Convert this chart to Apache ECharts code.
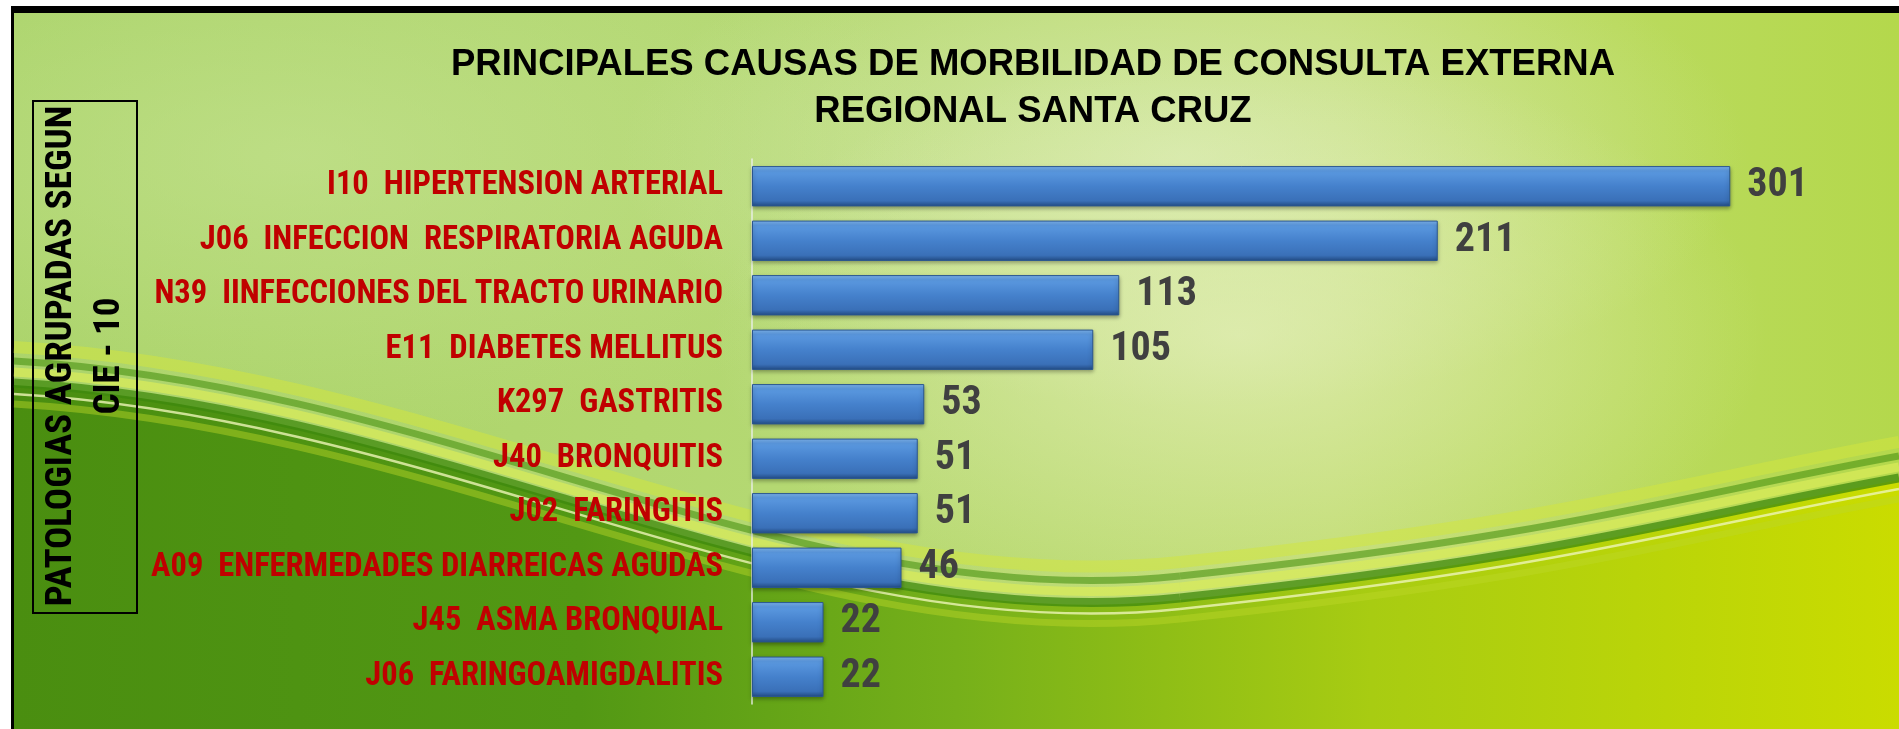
<!DOCTYPE html>
<html>
<head>
<meta charset="utf-8">
<title>Principales causas de morbilidad</title>
<script src="https://cdn.jsdelivr.net/npm/echarts@6.0.0/dist/echarts.min.js"></script>
<style>
  html, body { margin: 0; padding: 0; background: #fff; }
  #bg {
    position: absolute; left: 11px; top: 6px; right: 0; bottom: 0;
    border-top: 7px solid #000; border-left: 3px solid #000;
    background:
      radial-gradient(ellipse 28% 40% at 65% 45%, rgba(230,240,190,0.7), rgba(230,240,190,0) 100%),
      radial-gradient(ellipse 30% 35% at 62% 20%, rgba(222,238,190,0.7), rgba(222,238,190,0) 100%),
      radial-gradient(ellipse 35% 40% at 15% 20%, rgba(200,228,150,0.6), rgba(200,228,150,0) 100%),
      linear-gradient(90deg, #a8d266 0%, #b4d872 40%, #c0dc70 70%, #b4d84c 100%);
  }
  #chart { position: absolute; left: 0; top: 0; width: 1899px; height: 729px; }
</style>
</head>
<body>
<div id="bg"></div>
<div id="chart"></div>
<script>
  // datos
  const categories = [
    "I10  HIPERTENSION ARTERIAL",
    "J06  INFECCION  RESPIRATORIA AGUDA",
    "N39  IINFECCIONES DEL TRACTO URINARIO",
    "E11  DIABETES MELLITUS",
    "K297  GASTRITIS",
    "J40  BRONQUITIS",
    "J02  FARINGITIS",
    "A09  ENFERMEDADES DIARREICAS AGUDAS",
    "J45  ASMA BRONQUIAL",
    "J06  FARINGOAMIGDALITIS"
  ];
  const casos = [301, 211, 113, 105, 53, 51, 51, 46, 22, 22];

  const chartDom = document.getElementById("chart");
  const myChart = echarts.init(chartDom, null, { renderer: "canvas" });

  const condensed = "Roboto, 'Liberation Sans', Arial, sans-serif";

  // ondas del fondo (dos tramos bezier)
  const segs = [
    [14, 385, 450, 410, 800, 640, 1180, 600],
    [1180, 600, 1560, 560, 1680, 520, 1899, 480]
  ];
  const bez = (s, t) => {
    const u = 1 - t;
    return [
      u * u * u * s[0] + 3 * u * u * t * s[2] + 3 * u * t * t * s[4] + t * t * t * s[6],
      u * u * u * s[1] + 3 * u * u * t * s[3] + 3 * u * t * t * s[5] + t * t * t * s[7]
    ];
  };
  const fillPts = [];
  segs.forEach((s) => {
    for (let i = 0; i <= 40; i++) fillPts.push(bez(s, i / 40));
  });
  fillPts.push([1899, 729], [14, 729]);

  const stripe = (dy, color, width, opacity) =>
    segs.map((s) => ({
      type: "bezierCurve",
      silent: true,
      z: -10,
      y: dy,
      shape: { x1: s[0], y1: s[1], cpx1: s[2], cpy1: s[3], cpx2: s[4], cpy2: s[5], x2: s[6], y2: s[7] },
      style: { fill: null, stroke: color, lineWidth: width, opacity: opacity }
    }));

  const option = {
    backgroundColor: "transparent",
    animation: false,
    title: {
      text: "PRINCIPALES CAUSAS DE MORBILIDAD DE CONSULTA EXTERNA\nREGIONAL SANTA CRUZ",
      left: 1028,
      top: 36,
      textAlign: "center",
      textStyle: {
        fontFamily: "'Liberation Sans', Arial, sans-serif",
        fontWeight: "bold",
        fontSize: 36.5,
        lineHeight: 47,
        color: "#000"
      }
    },
    graphic: [
      {
        type: "polygon",
        silent: true,
        z: -20,
        shape: { points: fillPts },
        style: {
          fill: {
            type: "linear", x: 0, y: 0, x2: 1, y2: 0,
            colorStops: [
              { offset: 0, color: "#4a8e10" },
              { offset: 0.3, color: "#529814" },
              { offset: 0.5, color: "#76b01a" },
              { offset: 0.72, color: "#a8cc12" },
              { offset: 1, color: "#cadc00" }
            ]
          }
        }
      },
      ...stripe(-38, "#d2e640", 12, 0.55),
      ...stripe(-24, "#4a9214", 7, 0.6),
      ...stripe(-13, "#dcec5a", 9, 0.7),
      ...stripe(-2, "#3e880e", 9, 0.75),
      ...stripe(9, "#eef5b8", 2.5, 0.8),
      ...stripe(19, "#bcd828", 7, 0.45),
      {
        type: "rect",
        silent: true,
        shape: { x: 33, y: 101, width: 104, height: 512 },
        style: { fill: null, stroke: "#000", lineWidth: 2 }
      },
      {
        type: "text",
        silent: true,
        x: 86,
        y: 356,
        rotation: Math.PI / 2,
        style: {
          text: "PATOLOGIAS AGRUPADAS SEGUN\nCIE - 10",
          align: "center",
          verticalAlign: "middle",
          fontFamily: condensed,
          fontStyle: "condensed",
          fontWeight: "bold",
          fontSize: 37,
          lineHeight: 48,
          fill: "#000"
        }
      }
    ],
    grid: {
      left: 752,
      right: 42,
      top: 159,
      bottom: 25,
      containLabel: false,
      outerBoundsMode: "none"
    },
    xAxis: {
      type: "value",
      min: 0,
      max: 340,
      show: false
    },
    yAxis: {
      type: "category",
      inverse: true,
      data: categories,
      axisTick: { show: false },
      axisLine: {
        show: true,
        lineStyle: { color: "rgba(235,240,235,0.9)", width: 1.5 }
      },
      axisLabel: {
        margin: 29,
        color: "#c00000",
        fontFamily: condensed,
        fontStyle: "condensed",
        fontWeight: "bold",
        fontSize: 32.5
      },
      splitLine: { show: false }
    },
    series: [
      {
        name: "Casos",
        type: "bar",
        data: casos,
        barCategoryGap: "26%",
        itemStyle: {
          color: {
            type: "linear", x: 0, y: 0, x2: 0, y2: 1,
            colorStops: [
              { offset: 0, color: "#80b8f2" },
              { offset: 0.12, color: "#5b99e0" },
              { offset: 0.5, color: "#4581cc" },
              { offset: 0.86, color: "#3a70b8" },
              { offset: 1, color: "#234c84" }
            ]
          },
          borderColor: "#2a5690",
          borderWidth: 1,
          shadowColor: "rgba(0,0,0,0.35)",
          shadowBlur: 4,
          shadowOffsetY: 2
        },
        label: {
          show: true,
          position: "right",
          distance: 17,
          color: "#404040",
          fontFamily: condensed,
          fontStyle: "semi-condensed",
          fontWeight: "bold",
          fontSize: 40
        }
      }
    ]
  };

  myChart.setOption(option);
  window.addEventListener("resize", () => myChart.resize());
</script>
</body>
</html>
